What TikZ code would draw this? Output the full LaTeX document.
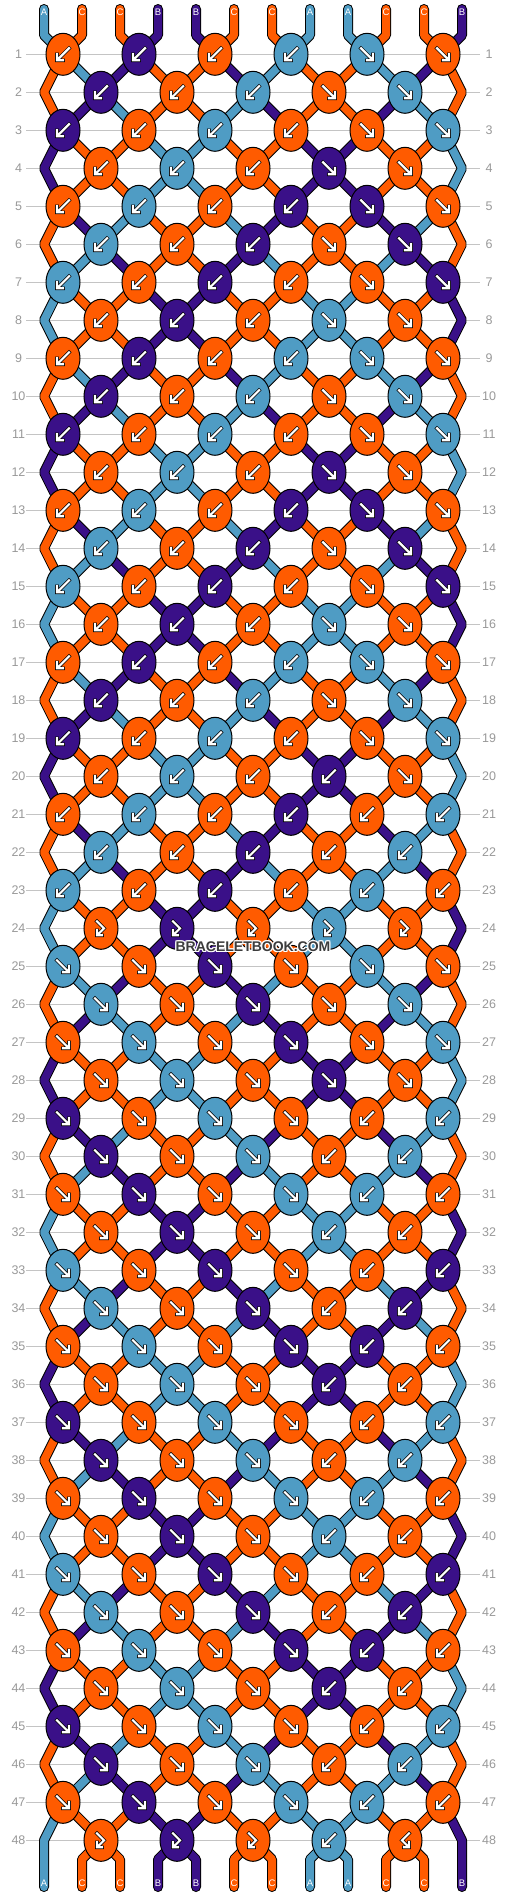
\documentclass[tikz,border=0pt]{standalone}
\usepackage{fontspec}
\usetikzlibrary{shapes.geometric}
\newfontfamily\labfont{Liberation Sans}
\definecolor{col1}{HTML}{4F9CC4}
\definecolor{col2}{HTML}{FF5B00}
\definecolor{col3}{HTML}{3A1088}
\definecolor{labgrey}{HTML}{999999}
\definecolor{gridgrey}{HTML}{C4C4C4}
\definecolor{wmgrey}{HTML}{3C3C3C}
\pgfdeclarelayer{grid}
\pgfdeclarelayer{sb}
\pgfdeclarelayer{sc}
\pgfsetlayers{grid,sb,sc,main}

% knot types: 1 = forward (SE), 2 = backward (SW), 3 = forward-backward, 4 = backward-forward
\def\tyoA{2,2,2,2,1,1}
\def\tyeA{2,2,2,1,1}
\def\tyeB{2,2,2,2,1}
\def\tyoC{2,2,2,2,2,2}
\def\tyeC{2,2,2,2,2}
\def\tyeD{3,3,3,3,3}
\def\tyoE{1,1,1,1,1,1}
\def\tyeE{1,1,1,1,1}
\def\tyoF{1,1,1,1,2,2}
\def\tyeF{1,1,1,2,2}
\def\tyeG{3,3,3,2,4}

\newcommand\pickty[1]{%
  \ifnum#1<20 \ifodd#1 \let\ty\tyoA\else\let\ty\tyeA\fi
  \else\ifnum#1=20 \let\ty\tyeB
  \else\ifnum#1<24 \ifodd#1 \let\ty\tyoC\else\let\ty\tyeC\fi
  \else\ifnum#1=24 \let\ty\tyeD
  \else\ifnum#1<29 \ifodd#1 \let\ty\tyoE\else\let\ty\tyeE\fi
  \else\ifnum#1<48 \ifodd#1 \let\ty\tyoF\else\let\ty\tyeF\fi
  \else \let\ty\tyeG
  \fi\fi\fi\fi\fi\fi}

% string colours at each position for the 4 recurring states (1=A blue, 2=C orange, 3=B purple)
\newcommand\getcol[1]{\pgfmathtruncatemacro\cc{{1,2,2,3,3,2,2,1,1,2,2,3,2,1,3,2,2,3,1,2,2,1,3,2,2,3,1,2,2,1,3,2,2,3,1,2,3,2,2,1,1,2,2,3,3,2,2,1}[#1]}}

% node holding position #2 in row #1
\newcommand\setnode[2]{%
  \ifodd#1\relax
    \ifodd#2\relax \pgfmathtruncatemacro\jjx{#2-1}\else \pgfmathtruncatemacro\jjx{#2}\fi
    \edef\nn{k-#1-\jjx}%
  \else
    \ifnum#2=0\relax \edef\nn{e-#1-L}%
    \else\ifnum#2=11\relax \edef\nn{e-#1-R}%
    \else
      \ifodd#2\relax \pgfmathtruncatemacro\jjx{#2}\else \pgfmathtruncatemacro\jjx{#2-1}\fi
      \edef\nn{k-#1-\jjx}%
    \fi\fi
  \fi}

\newif\ifblackpass
\newcommand\strpath[2]{%
  \ifblackpass\draw[strblack] #2;\else\draw[strcol,draw=#1] #2;\fi}

\newcommand\allstrings{%
  \foreach \rw in {1,...,47} {
    \pgfmathtruncatemacro\sst{{0,1,2,3,3,2,1,0}[mod(\rw,8)]}
    \pgfmathtruncatemacro\rn{\rw+1}
    \pgfmathtruncatemacro\rnn{\rw+2}
    \foreach \ps in {0,...,11} {
      \getcol{\sst*12+\ps}
      \setnode{\rw}{\ps}\let\na\nn
      \setnode{\rn}{\ps}\let\nb\nn
      \ifnum\ps=0 \def\isedge{1}\else\ifnum\ps=11 \def\isedge{1}\else\def\isedge{0}\fi\fi
      \ifnum\isedge=1
        \ifodd\rw
          \ifnum\rw<47
            \setnode{\rnn}{\ps}\let\nc\nn
            \strpath{col\cc}{(\na.center) -- (\nb) -- (\nc.center)}
          \else
            \strpath{col\cc}{(\na.center) -- (\nb) -- (b-\ps) -- (bb-\ps)}
          \fi
        \fi
      \else
        \strpath{col\cc}{(\na.center) -- (\nb.center)}
      \fi
    }
  }
  \foreach \ps in {0,...,11} {
    \getcol{\ps}
    \setnode{1}{\ps}\let\na\nn
    \strpath{col\cc}{(tt-\ps) -- (t-\ps) -- (\na.center)}
  }
  \foreach \ps in {1,...,10} {
    \getcol{\ps}
    \setnode{48}{\ps}\let\na\nn
    \strpath{col\cc}{(\na.center) -- (b-\ps) -- (bb-\ps)}
  }}

\newcommand\gpath[1]{%
  \draw[black,line width=3.6pt,line cap=rect,line join=miter] #1;
  \draw[white,line width=2.2pt,line cap=rect,line join=miter] #1;}
\newcommand\drawglyph[1]{%
  \ifcase#1\relax
  \or \gpath{(-6,-6) -- (5,5) (0,6) -- (6,6) -- (6,0)}%
  \or \gpath{(6,-6) -- (-5,5) (0,6) -- (-6,6) -- (-6,0)}%
  \or \gpath{(-4,-7) -- (3,0) -- (-3,6) (1,7) -- (-4,7) -- (-4,2)}%
  \or \gpath{(4,-7) -- (-3,0) -- (3,6) (-1,7) -- (4,7) -- (4,2)}%
  \fi}

\begin{document}
\begin{tikzpicture}[x=1pt,y=-1pt,
  knot/.style={ellipse,draw=black,line width=1pt,minimum width=34pt,minimum height=42pt,inner sep=0pt},
  strblack/.style={line width=10pt,draw=black,line cap=round,line join=bevel},
  strcol/.style={line width=8pt,line cap=round,line join=bevel},
  gridline/.style={draw=gridgrey,line width=1pt},
  rowlab/.style={font=\labfont\fontsize{12.5}{14}\selectfont,text=labgrey,inner sep=0pt},
  strlab/.style={font=\labfont\fontsize{9.5}{11}\selectfont,text=white,inner sep=0pt},
  wmtext/.style={font=\labfont\bfseries\fontsize{14}{16}\selectfont,anchor=base,inner sep=0pt}]
\useasboundingbox (0,0) rectangle (506,1896);
\begin{pgfonlayer}{grid}
\fill[white] (0,0) rectangle (506,1896);
\foreach \rw in {1,...,48} {
  \pgfmathsetmacro\yy{16.3+38*\rw}
  \draw[gridline] (26,\yy) -- (480,\yy);
}
\end{pgfonlayer}

\foreach \ps in {0,...,11} {
  \coordinate (tt-\ps) at ({44+38*\ps},9);
  \coordinate (t-\ps) at ({44+38*\ps},35.3);
  \coordinate (b-\ps) at ({44+38*\ps},1859.3);
  \coordinate (bb-\ps) at ({44+38*\ps},1887);
}

% rows: labels, edge points, knots
\foreach \rw in {1,...,48} {
  \pgfmathsetmacro\yy{16.3+38*\rw}
  \node[rowlab] (ll-\rw) at (18.5,\yy) {\rw};
  \node[rowlab] (lr-\rw) at (489,\yy) {\rw};
  \ifodd\rw\else
    \coordinate (e-\rw-L) at (44,\yy);
    \coordinate (e-\rw-R) at (462,\yy);
  \fi
  \pgfmathtruncatemacro\rp{\rw-1}
  \pgfmathtruncatemacro\sst{{0,1,2,3,3,2,1,0}[mod(\rp,8)]}
  \pickty{\rw}
  \foreach \kt [count=\ki from 0] in \ty {
    \ifodd\rw \pgfmathtruncatemacro\jj{2*\ki}\else \pgfmathtruncatemacro\jj{2*\ki+1}\fi
    \ifnum\kt=2 \def\side{1}\else\ifnum\kt=4 \def\side{1}\else\def\side{0}\fi\fi
    \getcol{\sst*12+\jj+\side}
    \node[knot,fill=col\cc] (k-\rw-\jj) at ({63+38*\jj},\yy) {};
    \begin{scope}[shift={(k-\rw-\jj.center)}]
      \drawglyph{\kt}
    \end{scope}
  }
}

% strings: outline pass, then colour pass
\begin{pgfonlayer}{sb}
\blackpasstrue
\allstrings
\end{pgfonlayer}
\begin{pgfonlayer}{sc}
\blackpassfalse
\allstrings
\end{pgfonlayer}

% string letters
\foreach \lbl [count=\q from 0] in {A,C,C,B,B,C,C,A,A,C,C,B} {
  \node[strlab] (tl-\q) at ({44+38*\q},12.7) {\lbl};
  \node[strlab] (bl-\q) at ({44+38*\q},1883.5) {\lbl};
}

% watermark
\foreach \dx/\dy [count=\q] in {-1/-1,0/-1,1/-1,-1/0,1/0,-1/1,0/1,1/1} {
  \node[wmtext,text=white] (wmh-\q) at ({253+(\dx)},{951.7+(\dy)}) {BRACELETBOOK.COM};
}
\node[wmtext,text=wmgrey] (wm) at (253,951.7) {BRACELETBOOK.COM};
\end{tikzpicture}
\end{document}
